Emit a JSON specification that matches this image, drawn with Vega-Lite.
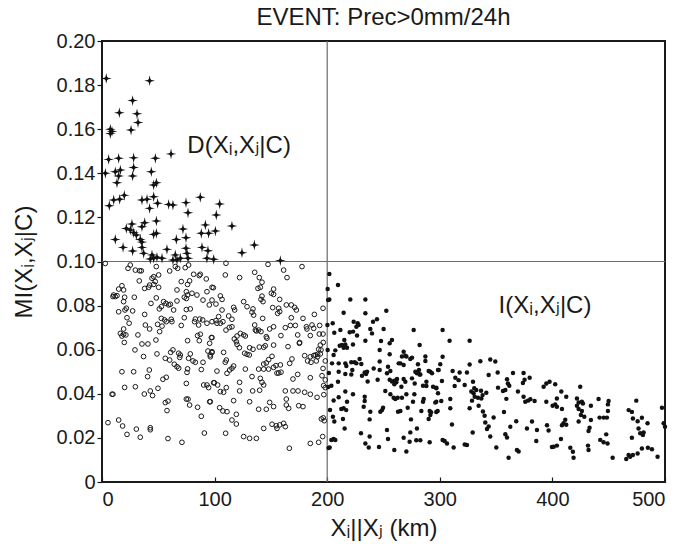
{
  "$schema": "https://vega.github.io/schema/vega-lite/v6.json",
  "width": 563,
  "height": 441,
  "autosize": {"type": "none"},
  "padding": {"left": 102, "top": 41, "right": 18, "bottom": 68},
  "background": "white",
  "config": {
    "font": "Liberation Sans, DejaVu Sans",
    "view": {"stroke": "#1a1a1a", "strokeWidth": 2},
    "axis": {
      "grid": false,
      "domain": false,
      "labelColor": "#1a1a1a",
      "titleColor": "#1a1a1a",
      "tickColor": "#1a1a1a",
      "tickWidth": 1.2,
      "labelFont": "Liberation Sans, DejaVu Sans",
      "titleFont": "Liberation Sans, DejaVu Sans",
      "titleFontWeight": "normal",
      "labelFontSize": 20,
      "titleFontSize": 24
    }
  },
  "title": {"text": "EVENT: Prec>0mm/24h", "fontSize": 24, "fontWeight": "normal", "color": "#1a1a1a", "offset": 1, "anchor": "middle", "font": "Liberation Sans"},
  "datasets": {
    "stars": [{"d":3.8,"mi":0.183},{"d":42.3,"mi":0.182},{"d":27.2,"mi":0.173},{"d":15.4,"mi":0.1675},{"d":31.1,"mi":0.167},{"d":32,"mi":0.163},{"d":7.4,"mi":0.16},{"d":8.9,"mi":0.159},{"d":7.4,"mi":0.158},{"d":25.8,"mi":0.1596},{"d":61.3,"mi":0.1488},{"d":5.9,"mi":0.1463},{"d":14.8,"mi":0.1468},{"d":28.1,"mi":0.147},{"d":47.4,"mi":0.1468},{"d":3,"mi":0.14},{"d":11.8,"mi":0.1407},{"d":16.3,"mi":0.1415},{"d":14.8,"mi":0.1388},{"d":28.1,"mi":0.1426},{"d":27.2,"mi":0.1388},{"d":13.3,"mi":0.1357},{"d":43.8,"mi":0.1407},{"d":45.9,"mi":0.1347},{"d":48.3,"mi":0.1357},{"d":19.8,"mi":0.13},{"d":10.4,"mi":0.1279},{"d":15.7,"mi":0.1282},{"d":6.5,"mi":0.1253},{"d":35.5,"mi":0.1279},{"d":40,"mi":0.1282},{"d":45.9,"mi":0.1294},{"d":42.3,"mi":0.1241},{"d":49.4,"mi":0.1264},{"d":59.2,"mi":0.1259},{"d":63,"mi":0.1256},{"d":74.6,"mi":0.1267},{"d":87.3,"mi":0.1291},{"d":104.5,"mi":0.1261},{"d":76.4,"mi":0.1221},{"d":101.5,"mi":0.1211},{"d":48.3,"mi":0.1184},{"d":37.9,"mi":0.1176},{"d":35.5,"mi":0.1158},{"d":26.6,"mi":0.117},{"d":21.6,"mi":0.115},{"d":25.2,"mi":0.1143},{"d":28.1,"mi":0.1131},{"d":30.5,"mi":0.112},{"d":34,"mi":0.11},{"d":35.5,"mi":0.1088},{"d":48.3,"mi":0.1128},{"d":45.9,"mi":0.1123},{"d":71.9,"mi":0.1147},{"d":91.8,"mi":0.1166},{"d":88.2,"mi":0.1128},{"d":94.7,"mi":0.1128},{"d":100.7,"mi":0.1138},{"d":115.4,"mi":0.1161},{"d":66,"mi":0.11},{"d":74.6,"mi":0.1108},{"d":11.8,"mi":0.11},{"d":18.7,"mi":0.1064},{"d":27.2,"mi":0.1048},{"d":35.5,"mi":0.1064},{"d":37,"mi":0.1037},{"d":44.4,"mi":0.103},{"d":45.9,"mi":0.1015},{"d":48.8,"mi":0.1019},{"d":53.3,"mi":0.1015},{"d":42.9,"mi":0.1011},{"d":57.7,"mi":0.1055},{"d":65.1,"mi":0.103},{"d":69.6,"mi":0.1015},{"d":66.6,"mi":0.1007},{"d":63,"mi":0.1007},{"d":74.6,"mi":0.106},{"d":75.5,"mi":0.1037},{"d":76.4,"mi":0.1015},{"d":88.8,"mi":0.1064},{"d":94.1,"mi":0.1049},{"d":93.2,"mi":0.1015},{"d":99.2,"mi":0.101},{"d":124.3,"mi":0.104},{"d":135.3,"mi":0.1075},{"d":158.4,"mi":0.1004}],
    "open": [{"d":2.9,"mi":0.0991},{"d":23.1,"mi":0.0969},{"d":25.1,"mi":0.0984},{"d":29.6,"mi":0.0961},{"d":33.4,"mi":0.0958},{"d":34.9,"mi":0.0958},{"d":48.2,"mi":0.0977},{"d":60.1,"mi":0.0957},{"d":65.1,"mi":0.0977},{"d":67.2,"mi":0.0969},{"d":73.9,"mi":0.0972},{"d":76.9,"mi":0.0984},{"d":44.4,"mi":0.0924},{"d":45.9,"mi":0.0931},{"d":50.3,"mi":0.0939},{"d":47.3,"mi":0.0909},{"d":45.9,"mi":0.0896},{"d":33.1,"mi":0.0912},{"d":81.4,"mi":0.0942},{"d":86.4,"mi":0.0936},{"d":87.3,"mi":0.0942},{"d":92.6,"mi":0.0921},{"d":70.4,"mi":0.0909},{"d":77.8,"mi":0.0912},{"d":76,"mi":0.0896},{"d":14.8,"mi":0.0875},{"d":17.7,"mi":0.089},{"d":19.2,"mi":0.0871},{"d":10.3,"mi":0.0848},{"d":11.8,"mi":0.0841},{"d":13.3,"mi":0.0845},{"d":9.7,"mi":0.0841},{"d":20.1,"mi":0.0838},{"d":19.2,"mi":0.0818},{"d":28.7,"mi":0.0838},{"d":37.9,"mi":0.0878},{"d":41.4,"mi":0.0883},{"d":42.3,"mi":0.0893},{"d":50.3,"mi":0.0883},{"d":66.6,"mi":0.0871},{"d":74.9,"mi":0.0863},{"d":76,"mi":0.0848},{"d":79.9,"mi":0.0856},{"d":84.3,"mi":0.0848},{"d":97.7,"mi":0.0883},{"d":93.2,"mi":0.0863},{"d":48.2,"mi":0.0835},{"d":74.9,"mi":0.0832},{"d":73.1,"mi":0.0838},{"d":66.6,"mi":0.0821},{"d":89.7,"mi":0.0825},{"d":95.3,"mi":0.0803},{"d":97.7,"mi":0.0825},{"d":43.5,"mi":0.081},{"d":54.7,"mi":0.0818},{"d":56.8,"mi":0.081},{"d":59.2,"mi":0.0803},{"d":52.7,"mi":0.0795},{"d":50.9,"mi":0.0785},{"d":60.7,"mi":0.0806},{"d":21.6,"mi":0.0788},{"d":20.4,"mi":0.078},{"d":14.8,"mi":0.0772},{"d":27.2,"mi":0.0776},{"d":37.9,"mi":0.076},{"d":63.6,"mi":0.078},{"d":74.9,"mi":0.0782},{"d":78.4,"mi":0.0785},{"d":82.9,"mi":0.0739},{"d":86.8,"mi":0.0739},{"d":85.8,"mi":0.0712},{"d":82.2,"mi":0.0727},{"d":89.4,"mi":0.0735},{"d":73.1,"mi":0.0745},{"d":93.2,"mi":0.072},{"d":97.7,"mi":0.0727},{"d":22.2,"mi":0.0745},{"d":24.1,"mi":0.072},{"d":52.7,"mi":0.0742},{"d":55.6,"mi":0.0735},{"d":57.1,"mi":0.0727},{"d":61.5,"mi":0.0738},{"d":62.1,"mi":0.0727},{"d":49.4,"mi":0.0715},{"d":53.3,"mi":0.0707},{"d":51.2,"mi":0.0682},{"d":38.5,"mi":0.0712},{"d":42.3,"mi":0.0694},{"d":70.4,"mi":0.071},{"d":19.2,"mi":0.0694},{"d":16.3,"mi":0.0674},{"d":19.2,"mi":0.067},{"d":21.2,"mi":0.0667},{"d":17.7,"mi":0.0662},{"d":31.9,"mi":0.0667},{"d":84.9,"mi":0.0664},{"d":87.3,"mi":0.067},{"d":86.4,"mi":0.0641},{"d":97.7,"mi":0.0655},{"d":19.8,"mi":0.0633},{"d":47.9,"mi":0.0644},{"d":35.5,"mi":0.0626},{"d":40.8,"mi":0.0626},{"d":76,"mi":0.0641},{"d":95.6,"mi":0.0629},{"d":29.3,"mi":0.0599},{"d":63,"mi":0.0599},{"d":61,"mi":0.0588},{"d":68.1,"mi":0.0584},{"d":69.5,"mi":0.0576},{"d":69,"mi":0.0565},{"d":78.4,"mi":0.0581},{"d":76.9,"mi":0.0561},{"d":80.8,"mi":0.0549},{"d":82.9,"mi":0.0543},{"d":94.1,"mi":0.0594},{"d":96.1,"mi":0.0576},{"d":97.7,"mi":0.0587},{"d":48.8,"mi":0.0581},{"d":36.9,"mi":0.0569},{"d":56.2,"mi":0.0561},{"d":60.1,"mi":0.0553},{"d":64.2,"mi":0.0534},{"d":66.6,"mi":0.0523},{"d":68.1,"mi":0.0516},{"d":76,"mi":0.0513},{"d":75.5,"mi":0.0497},{"d":89.7,"mi":0.0543},{"d":88.2,"mi":0.051},{"d":17.7,"mi":0.05},{"d":28.1,"mi":0.05},{"d":42,"mi":0.0508},{"d":40.5,"mi":0.0478},{"d":57.1,"mi":0.0475},{"d":54.1,"mi":0.0466},{"d":74.9,"mi":0.0447},{"d":20.1,"mi":0.0429},{"d":29.6,"mi":0.0432},{"d":49.7,"mi":0.0425},{"d":42.9,"mi":0.0413},{"d":44.9,"mi":0.0392},{"d":37.6,"mi":0.0399},{"d":99.1,"mi":0.045},{"d":90.3,"mi":0.044},{"d":93.2,"mi":0.044},{"d":94.7,"mi":0.0428},{"d":8.9,"mi":0.0398},{"d":9.7,"mi":0.0398},{"d":74.9,"mi":0.0376},{"d":76.4,"mi":0.0376},{"d":77.8,"mi":0.0349},{"d":58.6,"mi":0.0367},{"d":56.2,"mi":0.036},{"d":95.6,"mi":0.0364},{"d":57.7,"mi":0.0324},{"d":84.9,"mi":0.0339},{"d":88.2,"mi":0.0298},{"d":5.3,"mi":0.0269},{"d":14.8,"mi":0.0281},{"d":18.3,"mi":0.0254},{"d":30.5,"mi":0.024},{"d":42.9,"mi":0.0246},{"d":42.9,"mi":0.0237},{"d":22.2,"mi":0.0216},{"d":34,"mi":0.0203},{"d":58.6,"mi":0.0197},{"d":71,"mi":0.018},{"d":90.9,"mi":0.0222},{"d":110.1,"mi":0.0992},{"d":147.4,"mi":0.0987},{"d":177.6,"mi":0.0977},{"d":161.3,"mi":0.0961},{"d":109.5,"mi":0.0939},{"d":135.6,"mi":0.0951},{"d":139.7,"mi":0.0927},{"d":142.1,"mi":0.0906},{"d":140.6,"mi":0.0883},{"d":138.5,"mi":0.0878},{"d":122.2,"mi":0.0927},{"d":164.3,"mi":0.0927},{"d":98.9,"mi":0.0881},{"d":152.4,"mi":0.0875},{"d":150.4,"mi":0.0856},{"d":152.4,"mi":0.0851},{"d":142.1,"mi":0.0843},{"d":141.2,"mi":0.0828},{"d":143,"mi":0.0818},{"d":157.8,"mi":0.0828},{"d":105.1,"mi":0.0844},{"d":106.6,"mi":0.0828},{"d":101.2,"mi":0.0807},{"d":125.8,"mi":0.0818},{"d":128.8,"mi":0.0795},{"d":116.9,"mi":0.0792},{"d":117.8,"mi":0.078},{"d":134.1,"mi":0.0785},{"d":133.2,"mi":0.077},{"d":134.7,"mi":0.0757},{"d":151.6,"mi":0.0791},{"d":156.9,"mi":0.0788},{"d":156,"mi":0.0765},{"d":157.8,"mi":0.0773},{"d":163.7,"mi":0.0803},{"d":168.1,"mi":0.0803},{"d":171.1,"mi":0.0792},{"d":172.6,"mi":0.078},{"d":168.1,"mi":0.0745},{"d":106.6,"mi":0.078},{"d":103.6,"mi":0.075},{"d":101.2,"mi":0.0732},{"d":102.1,"mi":0.072},{"d":105.1,"mi":0.072},{"d":107.4,"mi":0.0727},{"d":112.5,"mi":0.0753},{"d":115.4,"mi":0.0738},{"d":142.7,"mi":0.0742},{"d":188.6,"mi":0.076},{"d":178.5,"mi":0.0742},{"d":196.3,"mi":0.0788},{"d":110.1,"mi":0.0689},{"d":113.1,"mi":0.0701},{"d":115.4,"mi":0.0704},{"d":122.9,"mi":0.0674},{"d":125.8,"mi":0.0667},{"d":127.3,"mi":0.0662},{"d":119.9,"mi":0.0662},{"d":117.5,"mi":0.0649},{"d":135.6,"mi":0.0712},{"d":136.2,"mi":0.0689},{"d":137.1,"mi":0.0685},{"d":141.2,"mi":0.0682},{"d":139.1,"mi":0.0689},{"d":145.9,"mi":0.0659},{"d":146.5,"mi":0.0652},{"d":148.9,"mi":0.0694},{"d":152.4,"mi":0.0704},{"d":162.8,"mi":0.07},{"d":167.3,"mi":0.071},{"d":171.7,"mi":0.071},{"d":158.9,"mi":0.0664},{"d":173.8,"mi":0.0667},{"d":181.5,"mi":0.0704},{"d":186.5,"mi":0.0712},{"d":182,"mi":0.0694},{"d":188,"mi":0.0697},{"d":193.3,"mi":0.071},{"d":185,"mi":0.0664},{"d":193,"mi":0.0671},{"d":175.5,"mi":0.0633},{"d":175.3,"mi":0.0629},{"d":193.9,"mi":0.0621},{"d":192.4,"mi":0.0602},{"d":194.5,"mi":0.0599},{"d":191.5,"mi":0.0579},{"d":193.9,"mi":0.0581},{"d":198.3,"mi":0.0549},{"d":97.1,"mi":0.0655},{"d":97.7,"mi":0.0591},{"d":108,"mi":0.0588},{"d":96.2,"mi":0.0568},{"d":119.9,"mi":0.0624},{"d":122,"mi":0.0609},{"d":119.3,"mi":0.0636},{"d":131.1,"mi":0.0609},{"d":134.1,"mi":0.0602},{"d":126.7,"mi":0.0584},{"d":128.8,"mi":0.0579},{"d":130.8,"mi":0.0576},{"d":139.7,"mi":0.0612},{"d":143.6,"mi":0.0611},{"d":145,"mi":0.0618},{"d":152.4,"mi":0.0621},{"d":165.2,"mi":0.0614},{"d":180,"mi":0.0573},{"d":185,"mi":0.0568},{"d":188,"mi":0.0573},{"d":189.5,"mi":0.0576},{"d":182.6,"mi":0.0549},{"d":185.6,"mi":0.0543},{"d":190.3,"mi":0.0549},{"d":191.5,"mi":0.0568},{"d":168.7,"mi":0.0558},{"d":166.7,"mi":0.0538},{"d":110.4,"mi":0.0553},{"d":109.5,"mi":0.0543},{"d":102.1,"mi":0.0503},{"d":111,"mi":0.0493},{"d":113.4,"mi":0.0508},{"d":115.4,"mi":0.0516},{"d":116.9,"mi":0.0526},{"d":127.3,"mi":0.0512},{"d":139.1,"mi":0.0512},{"d":143.6,"mi":0.0512},{"d":148,"mi":0.0512},{"d":143.6,"mi":0.0535},{"d":145.9,"mi":0.054},{"d":148,"mi":0.0555},{"d":151,"mi":0.057},{"d":152.4,"mi":0.052},{"d":154.5,"mi":0.0528},{"d":158.4,"mi":0.0531},{"d":159,"mi":0.0498},{"d":156.9,"mi":0.0494},{"d":155.4,"mi":0.0494},{"d":140.6,"mi":0.047},{"d":142.1,"mi":0.0452},{"d":143.6,"mi":0.044},{"d":133.2,"mi":0.0478},{"d":169.6,"mi":0.0467},{"d":173.8,"mi":0.0488},{"d":185,"mi":0.0473},{"d":195.4,"mi":0.0482},{"d":198.3,"mi":0.0463},{"d":196.8,"mi":0.0437},{"d":198.3,"mi":0.0428},{"d":99.8,"mi":0.045},{"d":102.7,"mi":0.044},{"d":105.1,"mi":0.041},{"d":108,"mi":0.0407},{"d":110.4,"mi":0.0428},{"d":122.2,"mi":0.0452},{"d":122.2,"mi":0.0413},{"d":133.8,"mi":0.0413},{"d":140,"mi":0.0416},{"d":162.8,"mi":0.0413},{"d":169.6,"mi":0.0413},{"d":174.1,"mi":0.0413},{"d":180,"mi":0.0407},{"d":185,"mi":0.0398},{"d":191,"mi":0.0384},{"d":163.7,"mi":0.0376},{"d":163.7,"mi":0.0349},{"d":165.8,"mi":0.0334},{"d":174.7,"mi":0.0346},{"d":178.5,"mi":0.0342},{"d":96.2,"mi":0.0364},{"d":116.9,"mi":0.0369},{"d":131.1,"mi":0.0364},{"d":148.9,"mi":0.0361},{"d":152.4,"mi":0.0342},{"d":139.1,"mi":0.033},{"d":145.9,"mi":0.033},{"d":104.5,"mi":0.0337},{"d":107.4,"mi":0.0322},{"d":111,"mi":0.0319},{"d":119.3,"mi":0.0307},{"d":115.4,"mi":0.0281},{"d":119.3,"mi":0.0263},{"d":151,"mi":0.0262},{"d":154.8,"mi":0.0255},{"d":157.8,"mi":0.0259},{"d":155.4,"mi":0.0243},{"d":161.3,"mi":0.0266},{"d":162.8,"mi":0.0251},{"d":143.6,"mi":0.0243},{"d":194.8,"mi":0.0286},{"d":197.4,"mi":0.0278},{"d":109.8,"mi":0.0221},{"d":125.8,"mi":0.0206},{"d":131.1,"mi":0.0198},{"d":137.1,"mi":0.0198},{"d":166.4,"mi":0.0153},{"d":185,"mi":0.0175},{"d":192.4,"mi":0.018},{"d":196,"mi":0.0206},{"d":196.3,"mi":0.0671},{"d":196.5,"mi":0.0633},{"d":196.3,"mi":0.0515},{"d":197,"mi":0.0396},{"d":196.5,"mi":0.0291}],
    "filled": [{"d":201.9,"mi":0.0943},{"d":200.4,"mi":0.0875},{"d":201.9,"mi":0.0828},{"d":209.6,"mi":0.0893},{"d":220.5,"mi":0.0828},{"d":233.9,"mi":0.0828},{"d":233.9,"mi":0.0765},{"d":252.5,"mi":0.0777},{"d":214.6,"mi":0.0768},{"d":200.2,"mi":0.0712},{"d":204.9,"mi":0.072},{"d":206.3,"mi":0.0677},{"d":211.7,"mi":0.0689},{"d":215.2,"mi":0.0644},{"d":216.1,"mi":0.0624},{"d":213.1,"mi":0.0621},{"d":211.1,"mi":0.0618},{"d":214.6,"mi":0.0609},{"d":217.6,"mi":0.0609},{"d":223.5,"mi":0.0727},{"d":227.1,"mi":0.072},{"d":227.9,"mi":0.0712},{"d":225.9,"mi":0.0704},{"d":220,"mi":0.0679},{"d":223,"mi":0.0682},{"d":226.5,"mi":0.0664},{"d":238.3,"mi":0.0694},{"d":239.8,"mi":0.0674},{"d":240.7,"mi":0.0727},{"d":244.2,"mi":0.0738},{"d":222.9,"mi":0.0624},{"d":233.9,"mi":0.0641},{"d":247.8,"mi":0.0639},{"d":246.6,"mi":0.0599},{"d":250.1,"mi":0.0694},{"d":257.5,"mi":0.0644},{"d":255.5,"mi":0.0629},{"d":276.8,"mi":0.0689},{"d":282.1,"mi":0.0621},{"d":207.2,"mi":0.0597},{"d":205.7,"mi":0.0576},{"d":200.4,"mi":0.0599},{"d":204.3,"mi":0.0538},{"d":210.2,"mi":0.0538},{"d":216.1,"mi":0.0538},{"d":217,"mi":0.0526},{"d":221.4,"mi":0.0543},{"d":224.4,"mi":0.0543},{"d":225.9,"mi":0.0538},{"d":210.2,"mi":0.05},{"d":216.1,"mi":0.049},{"d":222.3,"mi":0.0508},{"d":221.4,"mi":0.0488},{"d":228.8,"mi":0.0558},{"d":230.3,"mi":0.0535},{"d":233.3,"mi":0.0497},{"d":234.5,"mi":0.049},{"d":235.4,"mi":0.05},{"d":230.9,"mi":0.0482},{"d":241.3,"mi":0.0515},{"d":246.6,"mi":0.0546},{"d":246.6,"mi":0.0508},{"d":255.5,"mi":0.0579},{"d":254,"mi":0.0523},{"d":256.1,"mi":0.0503},{"d":253.1,"mi":0.0493},{"d":266.4,"mi":0.0569},{"d":270.3,"mi":0.0569},{"d":273.8,"mi":0.0558},{"d":275.3,"mi":0.0564},{"d":265,"mi":0.0538},{"d":263.5,"mi":0.0538},{"d":267.9,"mi":0.0531},{"d":280.6,"mi":0.0534},{"d":280.6,"mi":0.05},{"d":278.3,"mi":0.05},{"d":279.7,"mi":0.0493},{"d":282.1,"mi":0.0488},{"d":281.5,"mi":0.0508},{"d":287.2,"mi":0.0569},{"d":287.2,"mi":0.0549},{"d":290.1,"mi":0.0503},{"d":293.1,"mi":0.0493},{"d":291.6,"mi":0.05},{"d":299,"mi":0.0508},{"d":267.9,"mi":0.0591},{"d":269.4,"mi":0.0573},{"d":235.9,"mi":0.0456},{"d":244.8,"mi":0.0464},{"d":209.6,"mi":0.0455},{"d":203.7,"mi":0.0437},{"d":255.5,"mi":0.0464},{"d":257.5,"mi":0.0456},{"d":259.6,"mi":0.0459},{"d":262,"mi":0.0467},{"d":261.4,"mi":0.0452},{"d":259.6,"mi":0.0443},{"d":267.9,"mi":0.0467},{"d":269.4,"mi":0.0455},{"d":265.9,"mi":0.0432},{"d":275.3,"mi":0.047},{"d":277.7,"mi":0.0447},{"d":282.7,"mi":0.0488},{"d":288.1,"mi":0.0455},{"d":288.1,"mi":0.0435},{"d":285.1,"mi":0.0437},{"d":294,"mi":0.0432},{"d":296.9,"mi":0.0425},{"d":296,"mi":0.036},{"d":205.7,"mi":0.037},{"d":210.2,"mi":0.0384},{"d":216.1,"mi":0.041},{"d":217.6,"mi":0.0364},{"d":212.5,"mi":0.0331},{"d":216.9,"mi":0.0326},{"d":214.6,"mi":0.0334},{"d":222.9,"mi":0.0398},{"d":233.3,"mi":0.0387},{"d":233.3,"mi":0.0367},{"d":232.4,"mi":0.0341},{"d":251.6,"mi":0.0413},{"d":256.1,"mi":0.0398},{"d":259,"mi":0.0382},{"d":260.5,"mi":0.0376},{"d":262.6,"mi":0.0382},{"d":266.4,"mi":0.0382},{"d":270.3,"mi":0.0398},{"d":277.4,"mi":0.0398},{"d":276.2,"mi":0.0364},{"d":271.5,"mi":0.0337},{"d":262.9,"mi":0.0319},{"d":265,"mi":0.0322},{"d":238.3,"mi":0.0319},{"d":247.2,"mi":0.0319},{"d":249.6,"mi":0.0337},{"d":248.7,"mi":0.0326},{"d":285.7,"mi":0.0376},{"d":285.1,"mi":0.0364},{"d":283.6,"mi":0.0322},{"d":291,"mi":0.0322},{"d":291.6,"mi":0.0304},{"d":292.2,"mi":0.0316},{"d":290.1,"mi":0.0286},{"d":298.1,"mi":0.0322},{"d":205.1,"mi":0.0296},{"d":206.3,"mi":0.0274},{"d":214,"mi":0.0286},{"d":215.5,"mi":0.0243},{"d":237.7,"mi":0.0284},{"d":230,"mi":0.0221},{"d":237.7,"mi":0.0206},{"d":253.1,"mi":0.0236},{"d":254,"mi":0.0195},{"d":274.4,"mi":0.0284},{"d":273.8,"mi":0.0225},{"d":279.7,"mi":0.0243},{"d":273.2,"mi":0.0183},{"d":267.9,"mi":0.0201},{"d":279.1,"mi":0.0189},{"d":282.7,"mi":0.0189},{"d":291,"mi":0.018},{"d":203.7,"mi":0.019},{"d":205.7,"mi":0.0195},{"d":207.2,"mi":0.019},{"d":202.2,"mi":0.0156},{"d":233.9,"mi":0.0175},{"d":236.9,"mi":0.0156},{"d":246,"mi":0.0159},{"d":259.6,"mi":0.0145},{"d":270.3,"mi":0.0138},{"d":200.8,"mi":0.0825},{"d":201.5,"mi":0.0494},{"d":200.9,"mi":0.0431},{"d":202.5,"mi":0.0327},{"d":201.2,"mi":0.0154},{"d":302.5,"mi":0.0689},{"d":308.7,"mi":0.0641},{"d":326.5,"mi":0.0641},{"d":302.5,"mi":0.0568},{"d":300.4,"mi":0.0534},{"d":298.4,"mi":0.0508},{"d":301.9,"mi":0.0458},{"d":296.9,"mi":0.0428},{"d":298.4,"mi":0.0402},{"d":296.9,"mi":0.0364},{"d":301.3,"mi":0.0367},{"d":296.9,"mi":0.0317},{"d":311.4,"mi":0.0503},{"d":313.8,"mi":0.0473},{"d":317.6,"mi":0.0497},{"d":316.7,"mi":0.0462},{"d":313.2,"mi":0.0435},{"d":309.3,"mi":0.0376},{"d":309.3,"mi":0.0334},{"d":324.1,"mi":0.0497},{"d":326.5,"mi":0.0533},{"d":322.1,"mi":0.044},{"d":329.5,"mi":0.0455},{"d":330.6,"mi":0.0425},{"d":330,"mi":0.0402},{"d":328,"mi":0.041},{"d":332.4,"mi":0.0417},{"d":331,"mi":0.0387},{"d":328.6,"mi":0.0369},{"d":333.9,"mi":0.0382},{"d":336.6,"mi":0.0414},{"d":338,"mi":0.0394},{"d":341.3,"mi":0.0405},{"d":336.9,"mi":0.0379},{"d":336,"mi":0.0548},{"d":344.8,"mi":0.0556},{"d":349.3,"mi":0.0546},{"d":343.4,"mi":0.0485},{"d":351.4,"mi":0.0497},{"d":334.5,"mi":0.0346},{"d":338.3,"mi":0.032},{"d":339.8,"mi":0.03},{"d":340.4,"mi":0.027},{"d":341.9,"mi":0.024},{"d":343.4,"mi":0.0252},{"d":326.5,"mi":0.0334},{"d":329.2,"mi":0.0224},{"d":310.8,"mi":0.0261},{"d":322.1,"mi":0.017},{"d":324.1,"mi":0.0168},{"d":302.5,"mi":0.019},{"d":304.3,"mi":0.0186},{"d":306.4,"mi":0.0175},{"d":312.3,"mi":0.0156},{"d":344.8,"mi":0.0206},{"d":347.8,"mi":0.0293},{"d":350.2,"mi":0.0156},{"d":351.7,"mi":0.0428},{"d":356.1,"mi":0.0413},{"d":358.2,"mi":0.0417},{"d":359.7,"mi":0.0466},{"d":360.5,"mi":0.0447},{"d":361.7,"mi":0.0437},{"d":359.1,"mi":0.0377},{"d":357,"mi":0.0317},{"d":358.2,"mi":0.0217},{"d":359.7,"mi":0.0202},{"d":362.6,"mi":0.0251},{"d":361.1,"mi":0.011},{"d":365,"mi":0.0494},{"d":369.4,"mi":0.041},{"d":374.4,"mi":0.0494},{"d":375.3,"mi":0.0464},{"d":373.8,"mi":0.0449},{"d":379.8,"mi":0.0473},{"d":374.4,"mi":0.0387},{"d":375.9,"mi":0.0364},{"d":378.3,"mi":0.0369},{"d":380.4,"mi":0.0375},{"d":384.2,"mi":0.0367},{"d":367.9,"mi":0.0276},{"d":370,"mi":0.0138},{"d":368.5,"mi":0.0145},{"d":377.4,"mi":0.0243},{"d":381.9,"mi":0.0274},{"d":386.3,"mi":0.0236},{"d":385.7,"mi":0.0186},{"d":392.2,"mi":0.0432},{"d":394.6,"mi":0.0447},{"d":397.5,"mi":0.0455},{"d":394.6,"mi":0.0364},{"d":400.2,"mi":0.0346},{"d":395.2,"mi":0.0257},{"d":396.6,"mi":0.0234},{"d":399.6,"mi":0.0159},{"d":402.5,"mi":0.0443},{"d":412.3,"mi":0.0387},{"d":407.9,"mi":0.041},{"d":404,"mi":0.0379},{"d":402.5,"mi":0.0352},{"d":404,"mi":0.0341},{"d":408.5,"mi":0.0331},{"d":411.4,"mi":0.0282},{"d":409.9,"mi":0.0267},{"d":408.5,"mi":0.0257},{"d":412.3,"mi":0.026},{"d":401.1,"mi":0.016},{"d":404,"mi":0.0165},{"d":407.6,"mi":0.0195},{"d":415.9,"mi":0.0155},{"d":418.2,"mi":0.0137},{"d":418.8,"mi":0.011},{"d":421.8,"mi":0.0379},{"d":423.3,"mi":0.0361},{"d":421.8,"mi":0.0346},{"d":426.2,"mi":0.0364},{"d":427.1,"mi":0.0356},{"d":423.3,"mi":0.0331},{"d":425.3,"mi":0.0304},{"d":426.2,"mi":0.0322},{"d":428.3,"mi":0.0296},{"d":423.3,"mi":0.0274},{"d":424.7,"mi":0.0432},{"d":434.2,"mi":0.0346},{"d":434.2,"mi":0.0281},{"d":433,"mi":0.0246},{"d":432.1,"mi":0.0231},{"d":431.6,"mi":0.0165},{"d":432.1,"mi":0.0145},{"d":441,"mi":0.0376},{"d":441.9,"mi":0.0292},{"d":445.5,"mi":0.0292},{"d":448.4,"mi":0.0292},{"d":449.9,"mi":0.0367},{"d":449.3,"mi":0.0352},{"d":449.3,"mi":0.0322},{"d":442.5,"mi":0.0191},{"d":445.5,"mi":0.018},{"d":449,"mi":0.0175},{"d":447.8,"mi":0.0216},{"d":453.5,"mi":0.011},{"d":467.7,"mi":0.0326},{"d":470.6,"mi":0.0318},{"d":471.5,"mi":0.0288},{"d":475.7,"mi":0.0276},{"d":479.5,"mi":0.0291},{"d":476.5,"mi":0.0243},{"d":478,"mi":0.0221},{"d":481,"mi":0.0225},{"d":480.4,"mi":0.0213},{"d":484.5,"mi":0.0266},{"d":474.5,"mi":0.0369},{"d":470.6,"mi":0.0201},{"d":465.6,"mi":0.0104},{"d":467.7,"mi":0.0122},{"d":469.1,"mi":0.0115},{"d":471.5,"mi":0.0122},{"d":475.7,"mi":0.0129},{"d":479.5,"mi":0.0152},{"d":484.8,"mi":0.0155},{"d":488.4,"mi":0.0149},{"d":493.4,"mi":0.0115},{"d":497.3,"mi":0.0337},{"d":498.8,"mi":0.0266},{"d":500,"mi":0.0251}]
  },
  "layer": [
    {
      "data": {"values": [{"d": 200}]},
      "mark": {"type": "rule", "color": "#6a6a6a", "strokeWidth": 1.2},
      "encoding": {
        "x": {"field": "d", "type": "quantitative", "scale": {"domain": [0, 500], "nice": false, "zero": false},
          "axis": {"values": [0, 100, 200, 300, 400, 500], "tickSize": -5, "labelPadding": 12, "labelFlush": true, "title": "Xᵢ||Xⱼ (km)", "titlePadding": 7}}
      }
    },
    {
      "data": {"values": [{"mi": 0.1}]},
      "mark": {"type": "rule", "color": "#6a6a6a", "strokeWidth": 1.2},
      "encoding": {
        "y": {"field": "mi", "type": "quantitative", "scale": {"domain": [0, 0.2], "nice": false, "zero": false},
          "axis": {"values": [0, 0.02, 0.04, 0.06, 0.08, 0.1, 0.12, 0.14, 0.16, 0.18, 0.2], "tickSize": 5, "labelPadding": 2, "labelExpr": "datum.value == 0 ? '0' : format(datum.value, '.2f')", "title": "MI(Xᵢ,Xⱼ|C)", "titlePadding": 20}}
      }
    },
    {
      "data": {"name": "open"},
      "mark": {"type": "point", "shape": "circle", "filled": false, "stroke": "#1a1a1a", "strokeWidth": 1, "size": 22, "opacity": 1},
      "encoding": {
        "x": {"field": "d", "type": "quantitative"},
        "y": {"field": "mi", "type": "quantitative"}
      }
    },
    {
      "data": {"name": "filled"},
      "mark": {"type": "circle", "color": "#111111", "opacity": 1, "size": 20},
      "encoding": {
        "x": {"field": "d", "type": "quantitative"},
        "y": {"field": "mi", "type": "quantitative"}
      }
    },
    {
      "data": {"name": "stars"},
      "mark": {"type": "point", "shape": "M0,-1L0.18,-0.18L1,0L0.18,0.18L0,1L-0.18,0.18L-1,0L-0.18,-0.18Z", "filled": true, "color": "#111111", "opacity": 1, "size": 115},
      "encoding": {
        "x": {"field": "d", "type": "quantitative"},
        "y": {"field": "mi", "type": "quantitative"}
      }
    },
    {
      "data": {"name": "stars"},
      "mark": {"type": "circle", "color": "#111111", "opacity": 1, "size": 12},
      "encoding": {
        "x": {"field": "d", "type": "quantitative"},
        "y": {"field": "mi", "type": "quantitative"}
      }
    },
    {
      "data": {"values": [{"d": 75.8, "mi": 0.149, "t": "D(Xᵢ,Xⱼ|C)"}, {"d": 352.2, "mi": 0.0768, "t": "I(Xᵢ,Xⱼ|C)"}]},
      "mark": {"type": "text", "align": "left", "baseline": "alphabetic", "fontSize": 24, "color": "#1a1a1a", "font": "Liberation Sans, DejaVu Sans"},
      "encoding": {
        "x": {"field": "d", "type": "quantitative"},
        "y": {"field": "mi", "type": "quantitative"},
        "text": {"field": "t"}
      }
    }
  ]
}
